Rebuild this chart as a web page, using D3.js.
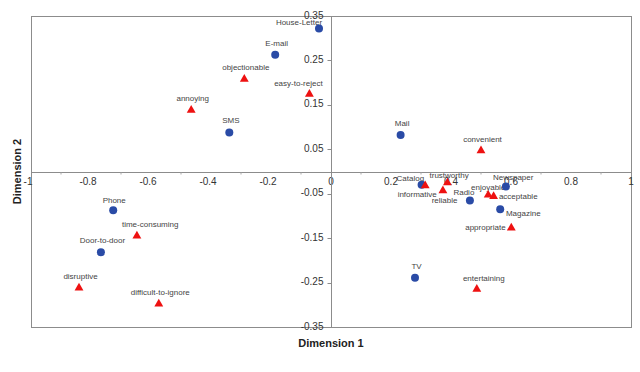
<!DOCTYPE html>
<html lang="en">
<head>
<meta charset="UTF-8">
<title>Correspondence map</title>
<script src="https://cdn.jsdelivr.net/npm/d3@7"></script>
<style>
    body { margin: 0; background: #fff; }
    text { font-family: "Liberation Sans", Arial, sans-serif; }
</style>
</head>
<body>
<svg width="640" height="372"></svg>
<script>
// media (blue circles)
var mediaNames = ["House-Letter", "E-mail", "SMS", "Mail", "Catalog", "Newspaper", "Radio", "Magazine", "TV", "Phone", "Door-to-door"];
var mediaX = [-0.04, -0.186, -0.339, 0.232, 0.302, 0.583, 0.463, 0.564, 0.28, -0.726, -0.767];
var mediaY = [0.322, 0.263, 0.088, 0.082, -0.030, -0.034, -0.065, -0.085, -0.239, -0.087, -0.182];

// attributes (red triangles)
var attrNames = ["objectionable", "easy-to-reject", "annoying", "convenient", "trustworthy", "informative", "reliable", "enjoyable", "acceptable", "appropriate", "entertaining", "time-consuming", "disruptive", "difficult-to-ignore"];
var attrX = [-0.289, -0.072, -0.466, 0.5, 0.388, 0.314, 0.373, 0.524, 0.542, 0.601, 0.486, -0.647, -0.84, -0.574];
var attrY = [0.208, 0.174, 0.138, 0.047, -0.025, -0.032, -0.043, -0.053, -0.056, -0.127, -0.265, -0.145, -0.262, -0.298];

var xTicks = [-1, -0.8, -0.6, -0.4, -0.2, 0, 0.2, 0.4, 0.6, 0.8, 1];
var xTickLabels = ["-1", "-0.8", "-0.6", "-0.4", "-0.2", "0", "0.2", "0.4", "0.6", "0.8", "1"];
var xMinor = [-0.9, -0.7, -0.5, -0.3, -0.1, 0.1, 0.3, 0.5, 0.7, 0.9];
var yTicks = [0.35, 0.25, 0.15, 0.05, -0.05, -0.15, -0.25, -0.35];
var yTickLabels = ["0.35", "0.25", "0.15", "0.05", "-0.05", "-0.15", "-0.25", "-0.35"];

// where a label sits relative to its marker: [dx, dy, anchor]
var labelDefault = [1.5, -12, "middle"];
var labelPlace = {
    "House-Letter": [-20, -6.7, "middle"],
    "easy-to-reject": [-11, -10.7, "middle"],
    "Catalog": [-11.3, -7.3, "middle"],
    "trustworthy": [1.7, -8, "middle"],
    "informative": [-8, 8.3, "middle"],
    "reliable": [1.7, 9, "middle"],
    "Radio": [-6, -8.3, "middle"],
    "Newspaper": [7.3, -9.3, "middle"],
    "enjoyable": [0, -7.7, "middle"],
    "acceptable": [5.3, -0.6, "start"],
    "Magazine": [5.7, 3.4, "start"],
    "appropriate": [-5.6, -1, "end"],
    "entertaining": [7, -11.3, "middle"],
    "time-consuming": [13.3, -12, "middle"],
    "Phone": [1, -10.3, "middle"]
};

var svg = d3.select("svg");
var pLeft = 31, pRight = 631, pTop = 16, pBottom = 327;

var x = d3.scaleLinear().domain([-1, 1]).range([pLeft, pRight]);
var y = d3.scaleLinear().domain([-0.35, 0.35]).range([pBottom, pTop]);

var grey = "#8c8c8c";

// frame
svg.append("rect")
    .attr("x", pLeft + 0.5).attr("y", pTop + 0.5)
    .attr("width", pRight - pLeft).attr("height", pBottom - pTop)
    .attr("fill", "none").attr("stroke", grey).attr("stroke-width", 1);

// x axis through y=0
var ax = Math.round(y(0)) + 0.5;
svg.append("line")
    .attr("x1", pLeft).attr("x2", pRight)
    .attr("y1", ax).attr("y2", ax)
    .attr("stroke", grey);
svg.selectAll(".xminor").data(xMinor).enter().append("line")
    .attr("x1", d => x(d)).attr("x2", d => x(d))
    .attr("y1", ax).attr("y2", ax + 2)
    .attr("stroke", "#aaa");
svg.selectAll(".xlab").data(xTicks).enter().append("text")
    .attr("x", d => x(d))
    .attr("y", ax + 12.5)
    .attr("dx", d => d < 0 ? -3 : 0)
    .attr("text-anchor", "middle")
    .attr("font-size", "10px")
    .attr("fill", "#333")
    .text((d, i) => xTickLabels[i]);

// y axis through x=0
var ay = Math.round(x(0)) + 0.5;
svg.append("line")
    .attr("x1", ay).attr("x2", ay)
    .attr("y1", pTop).attr("y2", pBottom)
    .attr("stroke", grey);
svg.selectAll(".ytick").data(yTicks).enter().append("line")
    .attr("x1", ay - 4).attr("x2", ay)
    .attr("y1", d => Math.round(y(d)) + 0.5).attr("y2", d => Math.round(y(d)) + 0.5)
    .attr("stroke", grey);
svg.selectAll(".ylab").data(yTicks).enter().append("text")
    .attr("x", ay - 8)
    .attr("y", d => y(d) + 2.5)
    .attr("text-anchor", "end")
    .attr("font-size", "10px")
    .attr("fill", "#333")
    .text((d, i) => yTickLabels[i]);

// axis titles
svg.append("text")
    .attr("x", (pLeft + pRight) / 2).attr("y", 347)
    .attr("text-anchor", "middle")
    .attr("font-size", "11px").attr("font-weight", "bold")
    .attr("fill", "#222")
    .text("Dimension 1");
svg.append("text")
    .attr("transform", "translate(21," + ((pTop + pBottom) / 2) + ") rotate(-90)")
    .attr("text-anchor", "middle")
    .attr("font-size", "11px").attr("font-weight", "bold")
    .attr("fill", "#222")
    .text("Dimension 2");

var media = mediaNames.map((n, i) => ({name: n, x: mediaX[i], y: mediaY[i]}));
var attrs = attrNames.map((n, i) => ({name: n, x: attrX[i], y: attrY[i]}));
var all = media.concat(attrs);

// point labels (under the markers)
svg.selectAll(".plab").data(all).enter().append("text")
    .each(function (d) {
        var p = labelPlace[d.name] || labelDefault;
        d3.select(this)
            .attr("x", x(d.x) + p[0])
            .attr("y", y(d.y) + p[1] + 3)
            .attr("text-anchor", p[2]);
    })
    .attr("font-size", "8px")
    .attr("fill", "#444")
    .text(d => d.name);

// markers
svg.selectAll(".media").data(media).enter().append("circle")
    .attr("cx", d => x(d.x)).attr("cy", d => y(d.y))
    .attr("r", 4)
    .attr("fill", "#2a4ba6");

var tri = d3.symbol().type(d3.symbolTriangle).size(34);
svg.selectAll(".attr").data(attrs).enter().append("path")
    .attr("transform", d => "translate(" + x(d.x) + "," + y(d.y) + ")")
    .attr("d", tri)
    .attr("fill", "#ee1111");
</script>
</body>
</html>
